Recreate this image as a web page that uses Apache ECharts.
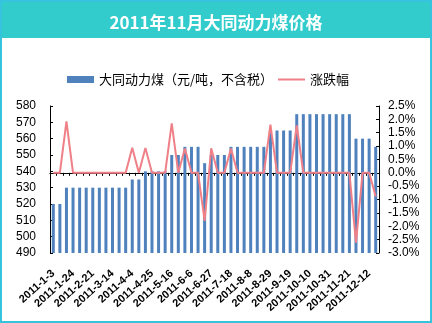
<!DOCTYPE html>
<html><head><meta charset="utf-8">
<script src="https://cdn.jsdelivr.net/npm/echarts@6/dist/echarts.min.js"></script>
<style>html,body{margin:0;padding:0;background:#fff}#c{width:432px;height:323px}</style>
</head><body><div id="c"></div>
<script>
const titleText = '2011年11月大同动力煤价格';
const barName = '大同动力煤（元/吨，不含税）';
const lineName = '涨跌幅';
const categories = [
  '2011-1-3','2011-1-10','2011-1-17','2011-1-24','2011-2-7','2011-2-14','2011-2-21','2011-2-28',
  '2011-3-7','2011-3-14','2011-3-21','2011-3-28','2011-4-4','2011-4-11','2011-4-18','2011-4-25',
  '2011-5-2','2011-5-9','2011-5-16','2011-5-23','2011-5-30','2011-6-6','2011-6-13','2011-6-20',
  '2011-6-27','2011-7-4','2011-7-11','2011-7-18','2011-7-25','2011-8-1','2011-8-8','2011-8-15',
  '2011-8-22','2011-8-29','2011-9-5','2011-9-12','2011-9-19','2011-9-26','2011-10-3','2011-10-10',
  '2011-10-17','2011-10-24','2011-10-31','2011-11-7','2011-11-14','2011-11-21','2011-11-28','2011-12-5',
  '2011-12-12','2011-12-19'
];
const priceValues = [
  520,520,530,530,530,530,530,530,530,530,530,530,535,535,540,540,
  540,540,550,550,555,555,555,545,550,550,550,555,555,555,555,555,
  555,565,565,565,565,575,575,575,575,575,575,575,575,575,560,560,
  560,555
];
const changePct = [
  0,0,1.92,0,0,0,0,0,0,0,0,0,0.94,0,0.93,0,
  0,0,1.85,0,0.91,0,0,-1.80,0.92,0,0,0.91,0,0,0,0,
  0,1.80,0,0,0,1.77,0,0,0,0,0,0,0,0,-2.61,0,
  0,-0.89
];
const leftAxis = {min: 490, max: 580, step: 10};
const rightAxis = {min: -3, max: 2.5, step: 0.5};

const chart = echarts.init(document.getElementById('c'), null, {renderer: 'canvas'});
const axisFont = 'Liberation Sans, Arial, sans-serif';
const barColor = '#4F81BD';
const lineColor = '#F08088';
const legendText = {fontSize: 13, color: '#000', fontFamily: 'Noto Sans CJK SC'};
chart.setOption({
  animation: false,
  backgroundColor: '#fff',
  graphic: [
    {type: 'rect', shape: {x: 0, y: 0, width: 432, height: 38}, style: {fill: '#33CCCC'}, z: -1},
    {type: 'rect', shape: {x: 1, y: 1, width: 430, height: 321}, style: {fill: 'none', stroke: '#36C3DE', lineWidth: 2}, z: 10}
  ],
  title: {
    text: titleText, left: 'center', top: 9,
    textStyle: {color: '#fff', fontSize: 17, fontWeight: 'bold', fontFamily: 'Noto Sans CJK SC'}
  },
  legend: [
    {left: 62, top: 68, itemWidth: 27, itemHeight: 7, itemGap: 0,
      textStyle: legendText, data: [{name: barName, icon: 'rect'}]},
    {left: 273, top: 68, itemWidth: 27, itemHeight: 2, itemGap: 0,
      textStyle: legendText, data: [{name: lineName, icon: 'rect', itemStyle: {color: lineColor}}]}
  ],
  grid: {left: 50, right: 53, top: 106, bottom: 70},
  xAxis: {
    type: 'category', data: categories,
    axisLine: {lineStyle: {color: '#000', width: 1}},
    axisTick: {show: true, interval: 0, length: 3, lineStyle: {color: '#000'}},
    axisLabel: {interval: 2, rotate: 42, fontSize: 11, fontWeight: 'bold', color: '#000', margin: 19,
      fontFamily: 'Liberation Sans Narrow, Liberation Sans, sans-serif'}
  },
  yAxis: [
    {
      type: 'value', min: leftAxis.min, max: leftAxis.max, interval: leftAxis.step,
      axisLine: {show: true, lineStyle: {color: '#000'}},
      axisTick: {show: true, inside: true, length: 3, lineStyle: {color: '#000'}},
      splitLine: {show: false},
      axisLabel: {fontSize: 12, color: '#000', margin: 14, fontFamily: axisFont}
    },
    {
      type: 'value', min: rightAxis.min, max: rightAxis.max, interval: rightAxis.step,
      axisLine: {show: true, lineStyle: {color: '#000'}},
      axisTick: {show: true, inside: true, length: 3, lineStyle: {color: '#000'}},
      splitLine: {show: false},
      axisLabel: {fontSize: 12, color: '#000', margin: 9, fontFamily: axisFont,
        formatter: v => v.toFixed(1) + '%'}
    }
  ],
  series: [
    {name: barName, type: 'bar', data: priceValues, barWidth: 3, itemStyle: {color: barColor}},
    {name: lineName, type: 'line', yAxisIndex: 1, data: changePct, symbol: 'none',
      lineStyle: {color: lineColor, width: 2}, itemStyle: {color: lineColor}, z: 3}
  ]
});
</script></body></html>
